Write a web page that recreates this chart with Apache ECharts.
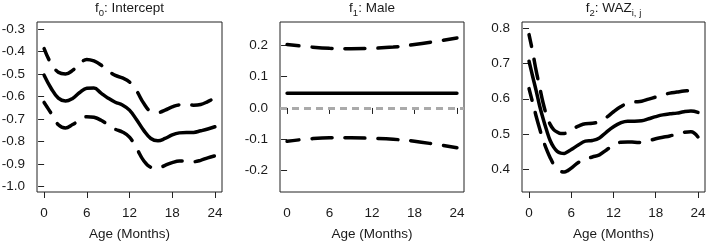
<!DOCTYPE html>
<html><head><meta charset="utf-8">
<script src="https://cdn.jsdelivr.net/npm/echarts@6/dist/echarts.min.js"></script>
<style>html,body{margin:0;padding:0;background:#fff}#c{width:709px;height:243px}</style>
</head><body><div id="c"></div>
<script>
// ---- data ----
const xTicks = [0, 6, 12, 18, 24];

// f0: Intercept
const ages1 = [0,1,2,3,4,5,6,7,8,9,10,11,12,13,14,15,16,17,18,19,20,21,22,23,24];
const f0Est   = [-0.505,-0.564,-0.607,-0.620,-0.608,-0.582,-0.563,-0.562,-0.585,-0.607,-0.625,-0.637,-0.660,-0.703,-0.750,-0.786,-0.796,-0.786,-0.770,-0.761,-0.759,-0.759,-0.752,-0.744,-0.734];
const f0Upper = [-0.387,-0.455,-0.492,-0.500,-0.484,-0.455,-0.435,-0.442,-0.460,-0.486,-0.506,-0.517,-0.535,-0.575,-0.630,-0.666,-0.671,-0.660,-0.646,-0.637,-0.637,-0.638,-0.635,-0.622,-0.606];
const f0Lower = [-0.626,-0.675,-0.725,-0.739,-0.724,-0.705,-0.689,-0.692,-0.705,-0.725,-0.745,-0.757,-0.780,-0.830,-0.885,-0.914,-0.918,-0.905,-0.893,-0.886,-0.887,-0.889,-0.883,-0.872,-0.863];
const yTicks0 = [-1.0,-0.9,-0.8,-0.7,-0.6,-0.5,-0.4,-0.3];

// f1: Male
const ages2 = [0,3,6,9,12,15,18,21,24];
const f1Est   = [0.047,0.047,0.047,0.047,0.047,0.047,0.047,0.047,0.047];
const f1Upper = [0.202,0.195,0.190,0.189,0.190,0.194,0.202,0.212,0.223];
const f1Lower = [-0.106,-0.099,-0.095,-0.095,-0.097,-0.100,-0.106,-0.116,-0.127];
const yTicks1 = [-0.2,-0.1,0.0,0.1,0.2];
const refLine1 = 0;

// f2: WAZ
const ages3 = [0,0.5,1,1.5,2,2.5,3,3.5,4,4.5,5,5.5,6,7,8,9,10,11,12,13,14,15,16,17,18,19,20,21,22,23,24];
const f2Est   = [0.707,0.665,0.624,0.580,0.543,0.510,0.481,0.462,0.450,0.445,0.444,0.449,0.455,0.468,0.479,0.481,0.488,0.505,0.520,0.531,0.536,0.536,0.537,0.543,0.549,0.554,0.557,0.559,0.563,0.565,0.561];
const f2Upper = [0.783,0.735,0.681,0.634,0.588,0.552,0.527,0.512,0.505,0.501,0.501,0.506,0.512,0.522,0.529,0.530,0.535,0.547,0.563,0.577,0.587,0.591,0.593,0.599,0.605,0.611,0.616,0.619,0.622,0.624,0.634];
const f2Lower = [0.629,0.590,0.551,0.515,0.482,0.455,0.432,0.413,0.401,0.393,0.391,0.395,0.402,0.418,0.428,0.434,0.440,0.454,0.467,0.476,0.477,0.476,0.475,0.480,0.486,0.490,0.494,0.499,0.504,0.506,0.491];
const yTicks2 = [0.4,0.5,0.6,0.7,0.8];

const titles = ['{a|f}{s|0}{a|: Intercept}', '{a|f}{s|1}{a|: Male}', '{a|f}{s|2}{a|: WAZ}{s|i, j}'];
const xName = 'Age (Months)';

// ---- layout / style ----
const FONT = '"Liberation Sans", Arial, Helvetica, sans-serif';
const FS = 13.5;
const TXT = '#1a1a1a';
const grids = [
  {left: 37, top: 22, width: 185, height: 170},
  {left: 280, top: 22, width: 184, height: 170},
  {left: 522, top: 22, width: 183, height: 170}
];
const yRanges = [[-1.0235, -0.269], [-0.268, 0.274], [0.334, 0.819]];
const yTickSets = [yTicks0, yTicks1, yTicks2];

const pairs = (xs, ys) => xs.map((x, i) => [x, ys[i]]);

function mkSeries(k, xs, ys, dashed) {
  return {
    type: 'line', xAxisIndex: k, yAxisIndex: k,
    data: pairs(xs, ys), smooth: 0.4, symbol: 'none', showSymbol: false,
    silent: true, animation: false, clip: true,
    lineStyle: dashed
      ? {color: '#000', width: 3.5, type: [20, 13], dashOffset: 8, cap: 'round'}
      : {color: '#000', width: 3.5, type: 'solid', cap: 'round'}
  };
}

const series = [
  mkSeries(0, ages1, f0Upper, true),
  mkSeries(0, ages1, f0Lower, true),
  mkSeries(0, ages1, f0Est, false),
  mkSeries(1, ages2, f1Upper, true),
  mkSeries(1, ages2, f1Lower, true),
  Object.assign(mkSeries(1, ages2, f1Est, false), {
    markLine: {
      silent: true, symbol: ['none', 'none'], label: {show: false}, animation: false,
      data: [{yAxis: refLine1}],
      lineStyle: {color: '#aaaaaa', width: 3, type: [7, 5], cap: 'butt'}
    }
  }),
  mkSeries(2, ages3, f2Upper, true),
  mkSeries(2, ages3, f2Lower, true),
  mkSeries(2, ages3, f2Est, false)
];

const option = {
  animation: false,
  backgroundColor: '#fff',
  grid: grids.map(g => Object.assign({show: true, borderColor: '#222', borderWidth: 1,
    backgroundColor: 'transparent', containLabel: false, outerBoundsMode: 'none'}, g)),
  xAxis: grids.map((g, k) => ({
    type: 'value', gridIndex: k, min: -1, max: 25,
    axisLine: {show: false}, splitLine: {show: false},
    axisTick: {show: true, inside: false, length: 6, customValues: xTicks, lineStyle: {color: '#222', width: 1}},
    axisLabel: {customValues: xTicks, margin: 14, fontSize: FS, color: TXT, fontFamily: FONT},
    name: xName, nameLocation: 'middle', nameGap: 35,
    nameTextStyle: {fontSize: FS, color: TXT, fontFamily: FONT}
  })),
  yAxis: grids.map((g, k) => ({
    type: 'value', gridIndex: k, min: yRanges[k][0], max: yRanges[k][1],
    axisLine: {show: false}, splitLine: {show: false},
    axisTick: {show: true, inside: false, length: 6, customValues: yTickSets[k], lineStyle: {color: '#222', width: 1}},
    axisLabel: {customValues: yTickSets[k], margin: 12, fontSize: FS, color: TXT, fontFamily: FONT,
      formatter: v => (Math.abs(v) < 1e-9 ? 0 : v).toFixed(1)}
  })),
  graphic: titles.map((t, k) => ({
    type: 'text', silent: true,
    x: grids[k].left + grids[k].width / 2, y: -1,
    style: {
      text: t, align: 'center', verticalAlign: 'top', textAlign: 'center', textVerticalAlign: 'top',
      fontSize: FS, fontFamily: FONT, fill: TXT,
      rich: {
        a: {fontSize: FS, fontFamily: FONT, fill: TXT, color: TXT, lineHeight: 19},
        s: {fontSize: 9.5, fontFamily: FONT, fill: TXT, color: TXT, lineHeight: 9, padding: [10, 0, 0, 0]}
      }
    }
  })),
  series: series
};

const chart = echarts.init(document.getElementById('c'), null, {renderer: 'canvas'});
chart.setOption(option);
</script>
</body></html>
